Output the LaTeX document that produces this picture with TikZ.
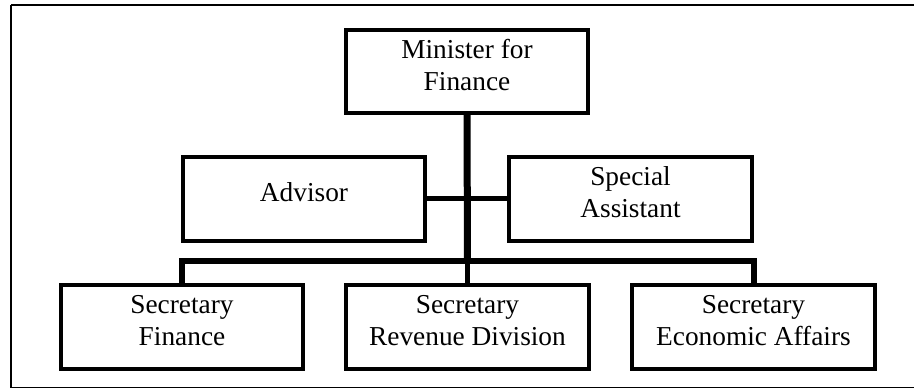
\documentclass[tikz,border=0pt]{standalone}
\usepackage{fontspec}
\setmainfont{Liberation Serif}
\tikzset{
  box/.style={draw, line width=3pt, minimum width=182pt, minimum height=62.5pt, inner ysep=0pt, align=center, font=\fontsize{20.5}{24}\selectfont, text depth=10pt},
  link/.style={line width=3.75pt}
}
\begin{document}
\begin{tikzpicture}[x=0.75pt,y=-0.75pt]
\useasboundingbox (0,0) rectangle (914,388);

%Shape: Frame
\draw [line width=1.4pt] (11.3,5) -- (930,5) (11.3,5) -- (11.3,387.5) -- (930,387.5) ;

%Shape: Rectangle
\node [box] (minister) at (467,71.5) {Minister for\\Finance};
%Shape: Rectangle
\node [box] (advisor) at (304,199) {Advisor};
%Shape: Rectangle
\node [box] (special) at (630.5,199) {Special\\Assistant};
%Shape: Rectangle
\node [box] (secfin) at (182,327) {Secretary\\Finance};
%Shape: Rectangle
\node [box] (secrev) at (467.5,327) {Secretary\\Revenue Division};
%Shape: Rectangle
\node [box] (sececo) at (753.5,327) {Secretary\\Economic Affairs};

\coordinate (bus) at (467.5,261);

%Straight Lines
\draw [line width=5.25pt] (minister.south) -- (bus) ;
\draw [link] (bus) -- (secrev.north) ;
\draw [link] (advisor.east) -- (special.west) ;
\draw [line width=4.5pt] (secfin.north) -- (secfin.north |- bus) -- (sececo.north |- bus) -- (sececo.north) ;

\end{tikzpicture}
\end{document}
